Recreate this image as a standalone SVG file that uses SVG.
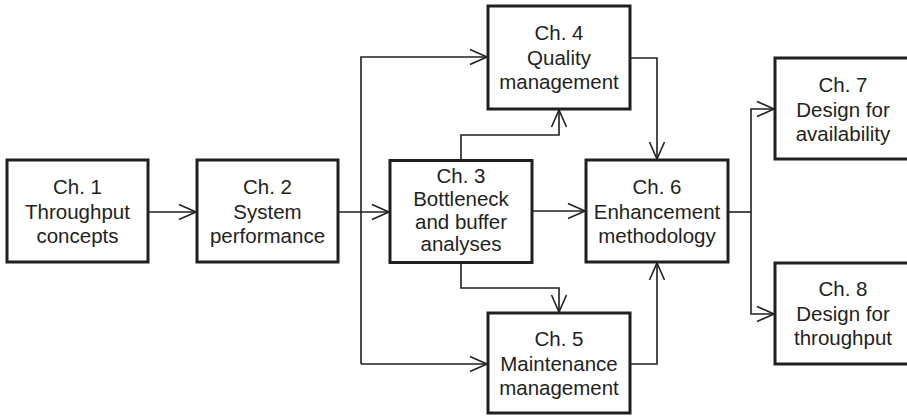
<svg xmlns="http://www.w3.org/2000/svg" width="907" height="416" viewBox="0 0 907 416">
<style>
.box{fill:#fff;stroke:#231f20;stroke-width:3}
.ln{fill:none;stroke:#231f20;stroke-width:1.6}
text{font-family:"Liberation Sans",Arial,sans-serif;font-size:20.5px;fill:#231f20;text-anchor:middle}
</style>
<defs>
<marker id="ah" markerUnits="userSpaceOnUse" markerWidth="20" markerHeight="20" viewBox="-18 -10 20 20" refX="0" refY="0" orient="auto">
<path d="M-17,-7.5 L0,0 L-17,7.5" fill="none" stroke="#231f20" stroke-width="1.6"/>
</marker>
</defs>
<rect width="907" height="416" fill="#fff"/>
<g id="connectors">
<path class="ln" d="M148,212 H196" marker-end="url(#ah)"/>
<path class="ln" d="M338,212 H389" marker-end="url(#ah)"/>
<path class="ln" d="M361,364 V57 H487" marker-end="url(#ah)"/>
<path class="ln" d="M361,364 H487" marker-end="url(#ah)"/>
<path class="ln" d="M461,160 V135 H559 V110" marker-end="url(#ah)"/>
<path class="ln" d="M461,262 V288 H559 V312" marker-end="url(#ah)"/>
<path class="ln" d="M532,211 H585" marker-end="url(#ah)"/>
<path class="ln" d="M630,58 H657 V159" marker-end="url(#ah)"/>
<path class="ln" d="M630,364 H657 V263" marker-end="url(#ah)"/>
<path class="ln" d="M728,212 H751"/>
<path class="ln" d="M751,212 V109 H774" marker-end="url(#ah)"/>
<path class="ln" d="M751,212 V314 H774" marker-end="url(#ah)"/>
</g>
<g id="ch1"><rect class="box" x="7" y="160" width="141" height="102"/>
<text x="77.5" y="194">Ch. 1</text><text x="77.5" y="218.5">Throughput</text><text x="77.5" y="243">concepts</text></g>
<g id="ch2"><rect class="box" x="197" y="160" width="141" height="102"/>
<text x="267.5" y="194">Ch. 2</text><text x="267.5" y="218.5">System</text><text x="267.5" y="243">performance</text></g>
<g id="ch3"><rect class="box" x="390" y="160.5" width="142" height="102"/>
<text x="461" y="183">Ch. 3</text><text x="461" y="206">Bottleneck</text><text x="461" y="229">and buffer</text><text x="461" y="251">analyses</text></g>
<g id="ch4"><rect class="box" x="488" y="6" width="142" height="103"/>
<text x="559" y="40">Ch. 4</text><text x="559" y="64.5">Quality</text><text x="559" y="89">management</text></g>
<g id="ch5"><rect class="box" x="488" y="313" width="142" height="100"/>
<text x="559" y="346">Ch. 5</text><text x="559" y="370.5">Maintenance</text><text x="559" y="395">management</text></g>
<g id="ch6"><rect class="box" x="586" y="160" width="142" height="102"/>
<text x="657" y="194">Ch. 6</text><text x="657" y="218.5">Enhancement</text><text x="657" y="243">methodology</text></g>
<g id="ch7"><rect class="box" x="775" y="58" width="136" height="101"/>
<text x="843" y="92">Ch. 7</text><text x="843" y="116.5">Design for</text><text x="843" y="141">availability</text></g>
<g id="ch8"><rect class="box" x="775" y="263" width="136" height="101"/>
<text x="843" y="296">Ch. 8</text><text x="843" y="320.5">Design for</text><text x="843" y="345">throughput</text></g>
</svg>
